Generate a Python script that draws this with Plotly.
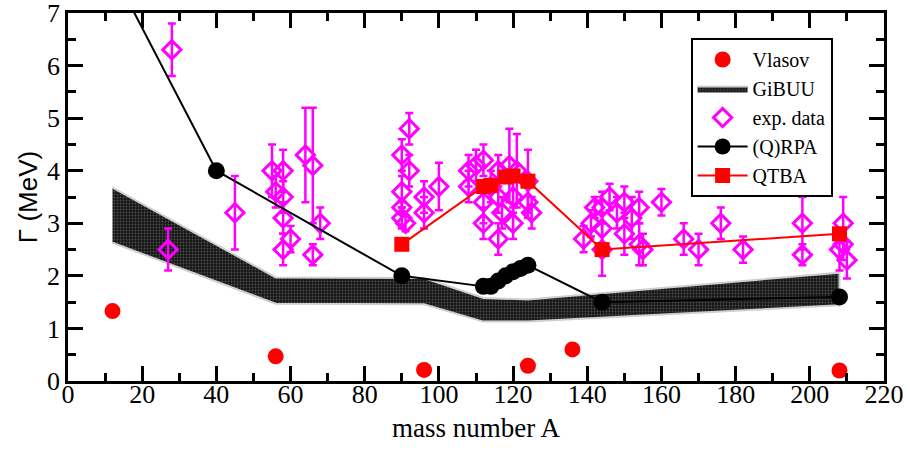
import plotly.graph_objects as go

# ---------------- data ----------------
vlasov_A = [12, 56, 96, 124, 136, 208]
vlasov_G = [1.33, 0.47, 0.21, 0.29, 0.60, 0.20]

gibuu_A = [12, 56, 96, 112, 124, 208]
gibuu_upper = [3.68, 1.97, 1.96, 1.58, 1.55, 2.06]
gibuu_lower = [2.63, 1.47, 1.46, 1.13, 1.13, 1.44]

exp_A = [27, 28, 45, 55, 56, 58, 58, 58, 58, 60, 64, 66, 66, 68,
         90, 90, 90, 90, 91, 92, 92, 96, 96, 100,
         108, 108, 110, 112, 112, 112, 114, 116, 116, 117, 116, 119, 121, 120, 120, 124, 125, 124,
         139, 141, 142, 144, 144, 144, 146, 148, 150, 150, 152, 154, 154, 155, 160,
         166, 170, 176, 182, 198, 198, 208, 209, 209, 210]
exp_G = [2.5, 6.3, 3.2, 4.0, 3.6, 4.0, 3.5, 3.1, 2.5, 2.7, 4.3, 4.1, 2.4, 3.0,
         4.3, 3.6, 3.3, 3.1, 3.0, 4.8, 4.0, 3.5, 3.2, 3.7,
         3.7, 4.0, 4.1, 4.2, 3.4, 3.0, 3.7, 4.0, 3.5, 3.2, 2.7, 4.1, 4.0, 3.5, 3.0, 3.4, 3.2, 3.8,
         2.7, 3.0, 3.3, 3.3, 2.9, 2.5, 3.5, 3.2, 3.4, 2.8, 3.1, 3.3, 2.6, 2.5, 3.4,
         2.7, 2.5, 3.0, 2.5, 3.0, 2.4, 2.5, 3.0, 2.6, 2.3]
exp_err = [0.4, 0.5, 0.7, 0.5, 0.3, 0.4, 0.3, 0.3, 0.3, 0.25, 0.9, 1.1, 0.2, 0.3,
           0.3, 0.3, 0.1, 0.2, 0.15, 0.3, 0.3, 0.3, 0.3, 0.45,
           0.3, 0.3, 0.3, 0.3, 0.4, 0.3, 0.3, 0.3, 0.3, 0.3, 0.3, 0.7, 0.7, 0.3, 0.3, 0.3, 0.3, 0.6,
           0.25, 0.25, 0.2, 0.3, 0.3, 0.5, 0.25, 0.3, 0.3, 0.4, 0.4, 0.3, 0.4, 0.3, 0.25,
           0.3, 0.3, 0.3, 0.25, 0.5, 0.2, 0.4, 0.5, 0.3, 0.35]

rpa_A = [12, 40, 90, 112, 114, 116, 118, 120, 122, 124, 144, 208]
rpa_G = [7.8, 4.0, 2.0, 1.8, 1.8, 1.9, 2.0, 2.08, 2.14, 2.2, 1.5, 1.6]

qtba_A = [90, 112, 114, 118, 120, 124, 144, 208]
qtba_G = [2.6, 3.7, 3.72, 3.88, 3.9, 3.8, 2.5, 2.8]

x_ticks = list(range(0, 221, 20))
y_ticks = list(range(0, 8))

SERIF = "Liberation Serif"

fig = go.Figure()

# GiBUU band (closed polygon: upper edge, then lower edge reversed)
fig.add_trace(go.Scatter(
    x=gibuu_A + gibuu_A[::-1],
    y=gibuu_upper + gibuu_lower[::-1],
    fill="toself", mode="lines",
    line=dict(color="#cfcfcf", width=2),
    fillcolor="#2a2a2a",
    fillpattern=dict(shape=".", bgcolor="#151515", fgcolor="#8a8a8a", size=3, solidity=0.3),
    name="GiBUU", legendrank=2,
))

fig.add_trace(go.Scatter(
    x=vlasov_A, y=vlasov_G, mode="markers",
    marker=dict(symbol="circle", size=16, color="#ff0000"),
    name="Vlasov", legendrank=1,
))

fig.add_trace(go.Scatter(
    x=exp_A, y=exp_G, mode="markers",
    marker=dict(symbol="diamond-open", size=14, color="#ff00ff", line=dict(width=3, color="#ff00ff")),
    error_y=dict(type="data", array=exp_err, visible=True, color="#ff00ff", thickness=2.5, width=4),
    name="exp. data", legendrank=3,
))

fig.add_trace(go.Scatter(
    x=rpa_A, y=rpa_G, mode="lines+markers",
    line=dict(color="black", width=2),
    marker=dict(symbol="circle", size=17, color="black"),
    name="(Q)RPA", legendrank=4,
))

fig.add_trace(go.Scatter(
    x=qtba_A, y=qtba_G, mode="lines+markers",
    line=dict(color="#ff0000", width=2),
    marker=dict(symbol="square", size=15, color="#ff0000"),
    name="QTBA", legendrank=5,
))

axis_common = dict(
    showline=True, linecolor="black", linewidth=2.5, mirror="allticks",
    ticks="inside", ticklen=15, tickwidth=2.5, tickcolor="black",
    showgrid=False, zeroline=False, automargin=False,
    ticklabeloverflow="allow",
    tickfont=dict(family=SERIF, size=26, color="black"),
)

fig.update_xaxes(
    range=[0, 220], tickvals=x_ticks,
    minor=dict(ticks="inside", ticklen=8, tickwidth=2.5, tickcolor="black", dtick=10, tick0=0),
    ticklabelstandoff=-12,
    **axis_common,
)
fig.update_yaxes(
    range=[0, 7], tickvals=y_ticks,
    minor=dict(ticks="inside", ticklen=8, tickwidth=2.5, tickcolor="black", dtick=0.5, tick0=0),
    title=dict(text="Γ (MeV)", font=dict(family="Liberation Sans", size=26, color="black"), standoff=2),
    **axis_common,
)

# x-axis title as an annotation to place it closer to the tick labels
fig.add_annotation(
    text="mass number A", xref="paper", yref="paper", x=0.5, y=-0.128,
    xanchor="center", yanchor="middle", showarrow=False,
    font=dict(family=SERIF, size=27, color="black"),
)

fig.update_layout(
    width=910, height=450,
    margin=dict(l=68, r=26, t=13, b=69),
    paper_bgcolor="white", plot_bgcolor="white",
    showlegend=True,
    legend=dict(
        x=0.763, y=0.932, xanchor="left", yanchor="top",
        bgcolor="white", bordercolor="black", borderwidth=2,
        font=dict(family=SERIF, size=20, color="black"),
        tracegroupgap=0, itemwidth=50,
    ),
)

fig.write_html("out.html")
